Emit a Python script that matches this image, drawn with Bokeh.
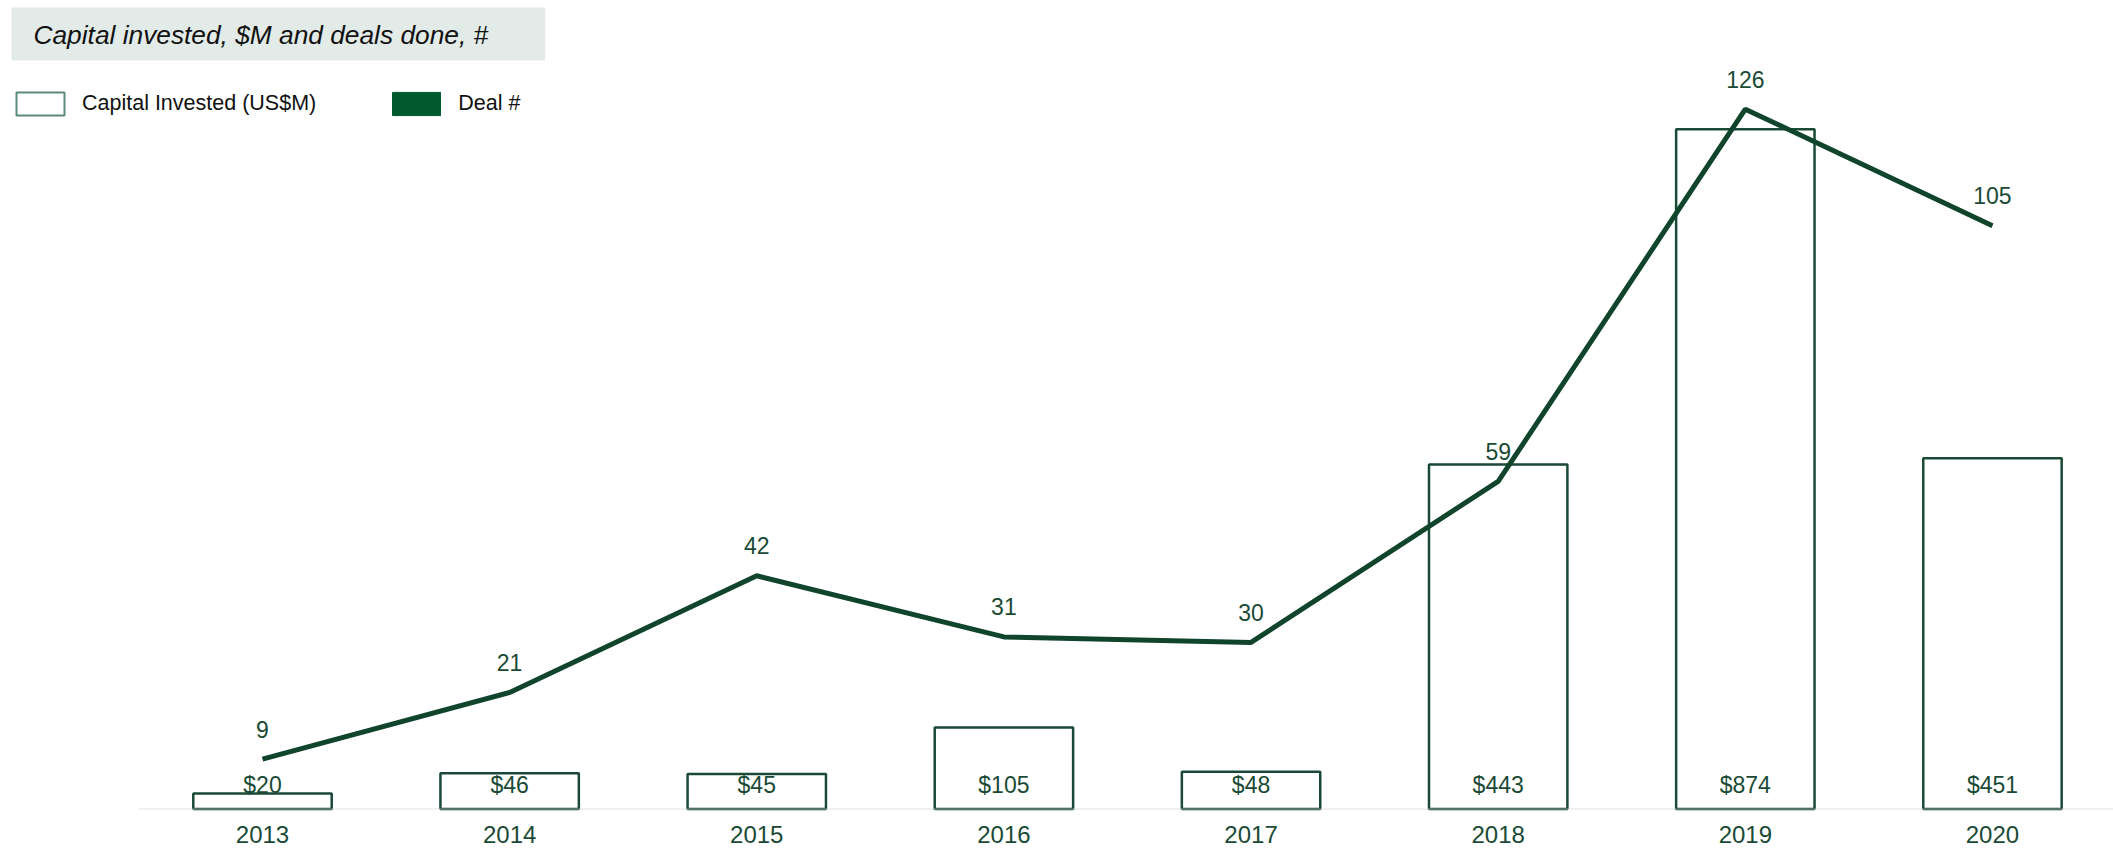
from bokeh.plotting import figure
from bokeh.models import ColumnDataSource, Range1d, LabelSet, Label, Legend, LegendItem, BoxAnnotation
from bokeh.embed import file_html
from bokeh.resources import INLINE
from bokeh.core.properties import value

# ---- data ----
years = ["2013", "2014", "2015", "2016", "2017", "2018", "2019", "2020"]
capital = [20, 46, 45, 105, 48, 443, 874, 451]
deals = [9, 21, 42, 31, 30, 59, 126, 105]

FONT = "Liberation Sans"
GREEN_TXT = "#1a4a35"
GREEN_LINE = "#10452c"
GREEN_BAR = "#1a4a35"

idx = list(range(len(years)))
src = ColumnDataSource(dict(
    x=idx,
    year=years,
    capital=capital,
    deals=deals,
    cap_label=["$" + str(v) for v in capital],
    deal_label=[str(d) for d in deals],
    zero=[0] * len(years),
))

W, H = 2113, 849
p = figure(width=W, height=H, output_backend="svg", toolbar_location=None,
           x_range=Range1d(-1.0601, 7.4897), y_range=Range1d(-51.93, 1039.33),
           x_axis_location=None, y_axis_location=None,
           min_border=0, min_border_left=0, min_border_right=0,
           min_border_top=0, min_border_bottom=0)
p.extra_y_ranges = {"deals": Range1d(-7.273, 145.56)}
p.grid.visible = False
p.outline_line_color = None
p.background_fill_color = "white"
p.border_fill_color = "white"

bars = p.vbar(x="x", top="capital", bottom=0, width=0.56, source=src,
              fill_color="white", line_color=GREEN_BAR, line_width=2.5)

deal_line = p.line(x="x", y="deals", y_range_name="deals", source=src,
                   line_color=GREEN_LINE, line_width=5)

# legend swatches (hidden renderers, only their legend glyphs are shown)
cap_swatch = p.vbar(x="x", top="capital", bottom=0, width=0.56, source=src,
                    fill_color="white", line_color="#5b8a78", line_width=2, visible=False)
deal_swatch = p.vbar(x="x", top="deals", bottom=0, width=0.56, source=src,
                     y_range_name="deals", fill_color="#005a2d", line_color="#005a2d",
                     line_width=1, visible=False)

# baseline (x axis line) starting at the left edge of the first category
p.add_layout(BoxAnnotation(left=-0.5, top=0, bottom=0, fill_alpha=0,
                           line_color="#cccccc", line_width=2))

p.add_layout(LabelSet(x="x", y="zero", text="cap_label", source=src, y_offset=24.5,
                      text_align="center", text_baseline="middle",
                      text_font=value(FONT), text_font_size=value("23px"),
                      text_color=GREEN_TXT))
p.add_layout(LabelSet(x="x", y="deals", y_range_name="deals", text="deal_label", source=src,
                      y_offset=30, text_align="center", text_baseline="middle",
                      text_font=value(FONT), text_font_size=value("23px"),
                      text_color=GREEN_TXT))
p.add_layout(LabelSet(x="x", y="zero", text="year", source=src, y_offset=-25,
                      text_align="center", text_baseline="middle",
                      text_font=value(FONT), text_font_size=value("24px"),
                      text_color=GREEN_TXT))

legend = Legend(items=[LegendItem(label="Capital Invested (US$M)", renderers=[cap_swatch]),
                       LegendItem(label="Deal #", renderers=[deal_swatch])],
                location=(10, 731), orientation="horizontal",
                glyph_width=60, glyph_height=29, label_standoff=12, spacing=70,
                padding=0, margin=0, border_line_color=None, background_fill_alpha=0,
                inactive_fill_alpha=0,
                label_text_font=FONT, label_text_font_size="21.5px",
                label_text_color="#111111")
p.add_layout(legend)

p.add_layout(Label(x=11, y=815.5, x_units="screen", y_units="screen",
                   text="Capital invested, $M and deals done, #",
                   text_font=FONT, text_font_size="26.3px", text_font_style="italic",
                   text_color="#111111", text_baseline="alphabetic",
                   background_fill_color="#e3ebe8",
                   padding=dict(left=22, right=57, top=12, bottom=11)))

open("out.html", "w").write(file_html(p, INLINE))
